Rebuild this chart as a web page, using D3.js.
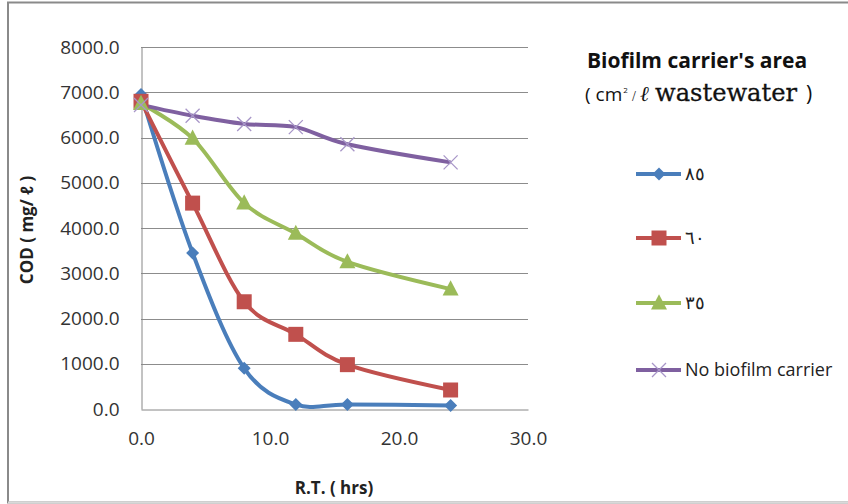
<!DOCTYPE html>
<html><head><meta charset="utf-8">
<script src="https://cdn.jsdelivr.net/npm/d3@7"></script>
<style>body{margin:0;background:#fff}svg{display:block}</style>
</head><body>
<svg id="c" width="848" height="504"></svg>
<script>
const hours = [0, 4, 8, 12, 16, 24];
const s85 = [6950, 3450, 900, 100, 100, 80];
const s60 = [6800, 4550, 2370, 1650, 980, 420];
const s35 = [6750, 5980, 4550, 3880, 3250, 2650];
const sNo = [6720, 6480, 6300, 6230, 5850, 5450];
const seriesNames = ["٨٥", "٦٠", "٣٥", "No biofilm carrier"];
const xTicks = [0, 10, 20, 30];
const yTicks = [0, 1000, 2000, 3000, 4000, 5000, 6000, 7000, 8000];

const series = [
  {name: seriesNames[0], vals: s85, color: "#4A7EBB", marker: "diamond"},
  {name: seriesNames[1], vals: s60, color: "#C0504D", marker: "square"},
  {name: seriesNames[2], vals: s35, color: "#9BBB59", marker: "triangle"},
  {name: seriesNames[3], vals: sNo, color: "#7F60A0", marker: "x"}
];

const svg = d3.select("#c");
const font = "'Open Sans', sans-serif";

// outer border
svg.append("rect").attr("x", 8).attr("y", 2.5).attr("width", 860).attr("height", 500)
  .attr("fill", "#fff").attr("stroke", "#8a8a8a").attr("stroke-width", 2);
svg.append("line").attr("x1", 8).attr("x2", 848).attr("y1", 502.5).attr("y2", 502.5)
  .attr("stroke", "#d9d9d9").attr("stroke-width", 2);

const x = d3.scaleLinear().domain([0, 30]).range([141, 528]);
const y = d3.scaleLinear().domain([0, 8000]).range([409, 47]);

// gridlines
svg.append("g").selectAll("line").data(yTicks.filter(d => d > 0)).join("line")
  .attr("x1", x(0)).attr("x2", x(30))
  .attr("y1", d => Math.round(y(d)) + 0.5).attr("y2", d => Math.round(y(d)) + 0.5)
  .attr("stroke", "#8c8c8c").attr("stroke-width", 1);

// axes
const yAxis = svg.append("g").attr("transform", `translate(${x(0) + 0.5},0)`)
  .call(d3.axisLeft(y).tickValues(yTicks).tickFormat(d3.format(".1f")).tickSize(0).tickPadding(22));
const xAxis = svg.append("g").attr("transform", `translate(0,${y(0) + 0.5})`)
  .call(d3.axisBottom(x).tickValues(xTicks).tickFormat(d3.format(".1f")).tickSize(0).tickPadding(22));
[yAxis, xAxis].forEach(a => {
  a.attr("font-size", null).attr("font-family", null);
  a.select(".domain").attr("stroke", "#868686");
  a.selectAll("text").style("font-family", font).style("font-size", "19px").attr("fill", "#333");
});

// axis titles
svg.append("text").attr("x", 334).attr("y", 494).attr("text-anchor", "middle")
  .style("font-family", font).attr("font-weight", "bold").style("font-size", "17px").attr("fill", "#222")
  .text("R.T. ( hrs)");
svg.append("text").attr("transform", "translate(33,230) rotate(-90)").attr("text-anchor", "middle")
  .style("font-family", font).attr("font-weight", "bold").style("font-size", "17px").attr("fill", "#222")
  .text("COD ( mg/ ℓ )");

// lines
const line = d3.line().x((d, i) => x(hours[i])).y(d => y(d)).curve(d3.curveCatmullRom.alpha(0));
const markerPath = (m, s) => {
  if (m === "diamond") return `M0,${-s}L${s},0L0,${s}L${-s},0Z`;
  if (m === "square") return `M${-s},${-s}H${s}V${s}H${-s}Z`;
  if (m === "triangle") return `M0,${-s * 1.1}L${s},${s * 0.8}L${-s},${s * 0.8}Z`;
  return `M${-s},${-s}L${s},${s}M${-s},${s}L${s},${-s}`;
};
const msize = {diamond: 6.5, square: 7.5, triangle: 8, x: 7};

const g = svg.append("g");
series.forEach(s => {
  g.append("path").datum(s.vals).attr("d", line).attr("fill", "none")
    .attr("stroke", s.color).attr("stroke-width", 4).attr("stroke-linejoin", "round");
});
series.forEach(s => {
  g.append("g").selectAll("path").data(s.vals).join("path")
    .attr("transform", (d, i) => `translate(${x(hours[i])},${y(d)})`)
    .attr("d", markerPath(s.marker, msize[s.marker]))
    .attr("fill", s.marker === "x" ? "none" : s.color)
    .attr("stroke", s.marker === "x" ? "#a896c8" : "none")
    .attr("stroke-width", 1.3);
});

// legend title
svg.append("text").attr("x", 697).attr("y", 68).attr("text-anchor", "middle").attr("fill", "#111")
  .style("font-family", font).attr("font-weight", "bold").style("font-size", "21px")
  .text("Biofilm carrier's area");
const l2 = svg.append("g").attr("fill", "#111");
const part = (xp, txt, fam, size, dy, len, extra) => {
  const t = l2.append("text").attr("x", xp).attr("y", 101 + (dy || 0))
    .style("font-family", fam).style("font-size", size + "px").text(txt);
  if (len) t.attr("textLength", len).attr("lengthAdjust", "spacingAndGlyphs");
  if (extra) extra(t);
  return t;
};
const cm = l2.append("text").attr("x", 585).attr("y", 101).style("font-family", font);
cm.append("tspan").style("font-size", "19px").text("( cm");
cm.append("tspan").style("font-size", "8px").attr("dx", 1).attr("dy", -8).text("2");
part(632, "/", "'Liberation Serif', serif", 14);
part(640, "ℓ", "'DejaVu Serif', serif", 21, 0, null, t => t.style("font-style", "italic"));
part(655, "wastewater", "'DejaVu Serif', serif", 24, 0, 142, t => t.attr("stroke", "#111").attr("stroke-width", 0.3));
part(806, ")", font, 21);

// legend entries
const legY = [174, 238, 303, 370];
series.forEach((s, i) => {
  const lg = svg.append("g").attr("transform", `translate(0,${legY[i]})`);
  lg.append("line").attr("x1", 636).attr("x2", 681).attr("stroke", s.color).attr("stroke-width", 4);
  lg.append("path").attr("transform", "translate(659,0)").attr("d", markerPath(s.marker, msize[s.marker]))
    .attr("fill", s.marker === "x" ? "none" : s.color)
    .attr("stroke", s.marker === "x" ? "#a896c8" : "none").attr("stroke-width", 1.3);
  lg.append("text").attr("x", 685).attr("y", 6).style("font-family", font).style("font-size", "18px")
    .attr("fill", "#222").text(s.name);
});
</script>
</body></html>
